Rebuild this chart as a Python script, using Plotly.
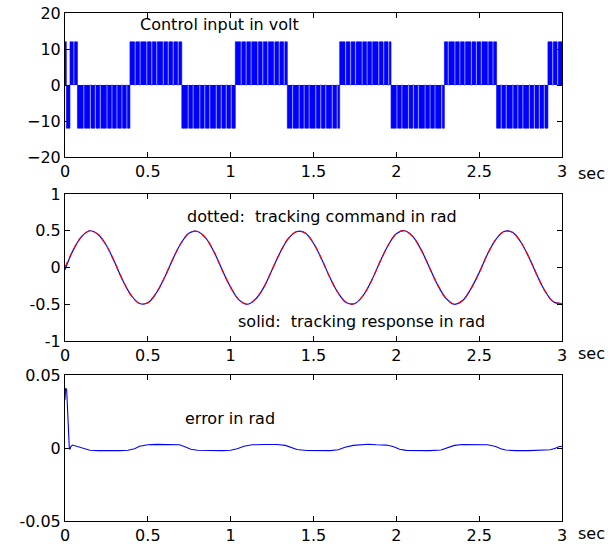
import plotly.graph_objects as go

# ---------------- data ----------------
# control input: switching windows (start time, level) and brief drops to 0 inside each window
ctrl_start = [0.000, 0.008, 0.030, 0.075, 0.392, 0.705, 1.028, 1.342, 1.658, 1.968, 2.290, 2.605, 2.915]
ctrl_level = [12, -12, 12, -12, 12, -12, 12, -12, 12, -12, 12, -12, 12]
ctrl_end_time = 3.0
ctrl_drops = [
    [],
    [],
    [0.05],
    [0.11, 0.15, 0.18, 0.21, 0.25, 0.28, 0.31, 0.34, 0.37],
    [0.42, 0.45, 0.49, 0.52, 0.55, 0.59, 0.62, 0.65, 0.68],
    [0.74, 0.77, 0.81, 0.84, 0.87, 0.91, 0.94, 0.97, 1.00],
    [1.06, 1.09, 1.12, 1.16, 1.19, 1.22, 1.26, 1.29, 1.32],
    [1.37, 1.41, 1.44, 1.47, 1.51, 1.54, 1.57, 1.61, 1.64],
    [1.69, 1.72, 1.75, 1.79, 1.82, 1.85, 1.89, 1.92, 1.95],
    [2.00, 2.03, 2.07, 2.10, 2.13, 2.17, 2.20, 2.23, 2.27],
    [2.31, 2.35, 2.38, 2.41, 2.45, 2.48, 2.51, 2.55, 2.58],
    [2.63, 2.66, 2.70, 2.73, 2.76, 2.80, 2.83, 2.86, 2.89],
    [2.94, 2.97],
]

track_t = [round(0.05 * i, 2) for i in range(61)]
track_cmd = [0.00, 0.24, 0.42, 0.50, 0.45, 0.30, 0.07, -0.18, -0.38, -0.49,
             -0.48, -0.35, -0.14, 0.11, 0.33, 0.47, 0.49, 0.40, 0.21, -0.04,
             -0.27, -0.44, -0.50, -0.43, -0.27, -0.03, 0.21, 0.40, 0.49, 0.47,
             0.33, 0.11, -0.14, -0.35, -0.48, -0.49, -0.38, -0.18, 0.07, 0.30,
             0.46, 0.50, 0.42, 0.24, 0.00, -0.24, -0.42, -0.50, -0.45, -0.29,
             -0.07, 0.18, 0.38, 0.49, 0.48, 0.35, 0.14, -0.11, -0.33, -0.47, -0.49]
track_resp = [-0.03, 0.24, 0.42, 0.50, 0.45, 0.30, 0.07, -0.18, -0.38, -0.49,
              -0.48, -0.35, -0.14, 0.11, 0.33, 0.47, 0.49, 0.40, 0.21, -0.04,
              -0.27, -0.44, -0.50, -0.43, -0.27, -0.03, 0.21, 0.40, 0.49, 0.47,
              0.33, 0.11, -0.14, -0.35, -0.48, -0.49, -0.38, -0.18, 0.07, 0.30,
              0.46, 0.50, 0.42, 0.24, 0.00, -0.24, -0.42, -0.50, -0.45, -0.29,
              -0.07, 0.18, 0.38, 0.49, 0.48, 0.35, 0.14, -0.11, -0.33, -0.47, -0.49]

err_t = [0, 0.004, 0.01, 0.014, 0.018, 0.022, 0.026, 0.03, 0.035, 0.045, 0.06, 0.08, 0.1, 0.12,
         0.15, 0.2, 0.25, 0.29, 0.33, 0.38, 0.42, 0.45, 0.5, 0.55, 0.62, 0.69, 0.72, 0.76,
         0.8, 0.86, 0.95, 1.0, 1.04, 1.08, 1.13, 1.2, 1.28, 1.33, 1.36, 1.4, 1.46, 1.53,
         1.6, 1.65, 1.69, 1.74, 1.8, 1.83, 1.88, 1.94, 1.98, 2.02, 2.06, 2.12, 2.2, 2.27,
         2.31, 2.35, 2.4, 2.48, 2.55, 2.6, 2.63, 2.66, 2.72, 2.8, 2.88, 2.93, 2.96, 2.98, 3.0]
err_v = [0.033, 0.041, 0.040, 0.030, 0.018, 0.005, 0.0, -0.001, 0.001, 0.002, 0.0015, 0.001, 0.0, -0.0005,
         -0.0015, -0.0018, -0.0018, -0.0022, -0.0018, -0.0015, -0.0005, 0.0012, 0.0022, 0.0025, 0.0025, 0.0022, 0.001, -0.0008,
         -0.0015, -0.0018, -0.0018, -0.0015, -0.0005, 0.0012, 0.0022, 0.0024, 0.0024, 0.0018, 0.0005, -0.001, -0.0017, -0.0019,
         -0.0018, -0.0012, 0.0005, 0.0018, 0.0022, 0.0026, 0.0022, 0.002, 0.001, -0.0008, -0.0016, -0.0018, -0.0018, -0.0014,
         0.0, 0.0018, 0.0024, 0.0024, 0.0022, 0.001, -0.0005, -0.0014, -0.0018, -0.0018, -0.0017, -0.0012, -0.0002, 0.0008, 0.0012]

x_ticks = [0, 0.5, 1, 1.5, 2, 2.5, 3]
x_ticklabels = ["0", "0.5", "1", "1.5", "2", "2.5", "3"]
y1_ticks = [-20, -10, 0, 10, 20]
y2_ticks = [-1, -0.5, 0, 0.5, 1]
y2_ticklabels = ["-1", "-0.5", "0", "0.5", "1"]
y3_ticks = [-0.05, 0, 0.05]
y3_ticklabels = ["-0.05", "0", "0.05"]

# ---------------- build control polyline ----------------
DW = 0.007
ct, cu = [], []
for i, (s, L) in enumerate(zip(ctrl_start, ctrl_level)):
    e = ctrl_start[i + 1] if i + 1 < len(ctrl_start) else ctrl_end_time
    ct += [s, s]
    cu += [0, L]
    for d in ctrl_drops[i]:
        ct += [d, d, d + DW, d + DW]
        cu += [L, 0, 0, L]
    ct += [e, e]
    cu += [L, 0]

W, H = 616, 546
def px_x(p):
    return p / W
def px_y(p):
    return 1 - p / H

BLUE = "rgb(0,0,255)"
FONT = "DejaVu Sans, Arial, sans-serif"
FS = 16

fig = go.Figure()
fig.add_trace(go.Scatter(x=ct, y=cu, mode="lines", line=dict(color=BLUE, width=0.6),
                         fill="tozeroy", fillcolor=BLUE, xaxis="x", yaxis="y", showlegend=False))
fig.add_trace(go.Scatter(x=track_t, y=track_resp, mode="lines", line=dict(color=BLUE, width=1.2, shape="spline"),
                         xaxis="x2", yaxis="y2", showlegend=False))
fig.add_trace(go.Scatter(x=track_t, y=track_cmd, mode="lines",
                         line=dict(color="rgb(255,0,0)", width=1.2, shape="spline", dash="6px,4px"),
                         xaxis="x2", yaxis="y2", showlegend=False))
fig.add_trace(go.Scatter(x=err_t, y=err_v, mode="lines", line=dict(color=BLUE, width=1.1),
                         xaxis="x3", yaxis="y3", showlegend=False))

xd = [px_x(65), px_x(562)]
common_x = dict(range=[0, 3], tickvals=x_ticks, ticktext=x_ticklabels, ticks="inside", ticklen=5,
                showline=True, linecolor="black", linewidth=1, mirror="ticks", showgrid=False,
                zeroline=False, tickfont=dict(family=FONT, size=FS, color="black"), domain=xd,
                tickcolor="black", automargin=False)
common_y = dict(ticks="inside", ticklen=5, showline=True, linecolor="black", linewidth=1, mirror="ticks",
                showgrid=False, zeroline=False, tickfont=dict(family=FONT, size=FS, color="black"),
                tickcolor="black", automargin=False)

fig.update_layout(
    template="none",
    width=W, height=H, margin=dict(l=0, r=0, t=0, b=0, autoexpand=False),
    paper_bgcolor="white", plot_bgcolor="white",
    xaxis=dict(common_x, anchor="y"),
    yaxis=dict(common_y, range=[-20, 20], tickvals=y1_ticks, domain=[px_y(157), px_y(13)], anchor="x"),
    xaxis2=dict(common_x, anchor="y2"),
    yaxis2=dict(common_y, range=[-1, 1], tickvals=y2_ticks, ticktext=y2_ticklabels,
                domain=[px_y(341), px_y(194)], anchor="x2"),
    xaxis3=dict(common_x, anchor="y3"),
    yaxis3=dict(common_y, range=[-0.05, 0.05], tickvals=y3_ticks, ticktext=y3_ticklabels,
                domain=[px_y(521), px_y(375)], anchor="x3"),
)

tf = dict(family=FONT, size=FS, color="black")
fig.add_annotation(x=0.44, y=16.9, xref="x", yref="y", text="Control input in volt", showarrow=False,
                   xanchor="left", yanchor="middle", font=tf)
fig.add_annotation(x=0.726, y=0.70, xref="x2", yref="y2", text="dotted:  tracking command in rad",
                   showarrow=False, xanchor="left", yanchor="middle", font=tf)
fig.add_annotation(x=1.035, y=-0.728, xref="x2", yref="y2", text="solid:  tracking response in rad",
                   showarrow=False, xanchor="left", yanchor="middle", font=tf)
fig.add_annotation(x=0.714, y=0.0199, xref="x3", yref="y3", text="error in rad", showarrow=False,
                   xanchor="left", yanchor="middle", font=tf)
for yy in [173, 353, 533]:
    fig.add_annotation(x=px_x(576), y=px_y(yy), xref="paper", yref="paper", text="sec", showarrow=False,
                       xanchor="left", yanchor="middle", font=tf)

fig.write_html("out.html", config={"displayModeBar": False},
               post_script="document.body.style.margin='0';document.body.style.overflow='hidden';")
